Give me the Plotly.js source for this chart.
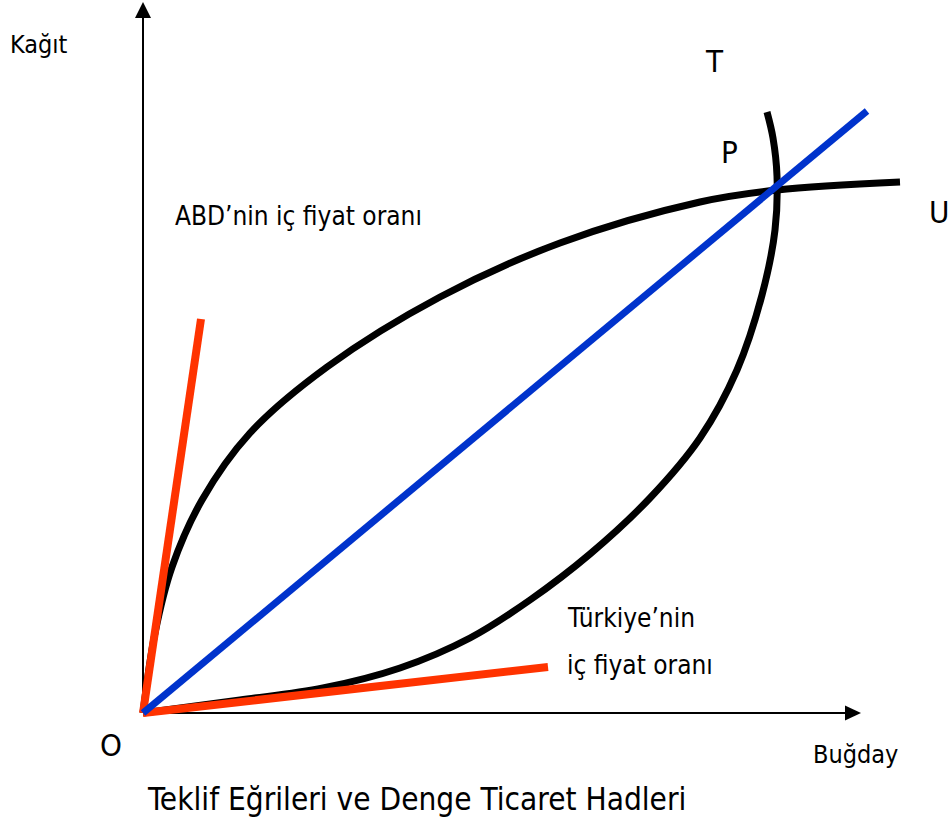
<!DOCTYPE html>
<html>
<head>
<meta charset="utf-8">
<script src="https://cdn.plot.ly/plotly-3.0.1.min.js"></script>
<style>html,body{margin:0;padding:0;background:#fff;}#chart{width:950px;height:829px;}</style>
</head>
<body>
<div id="chart"></div>
<script>
// Offer curve of ABD (O -> U): x = Buğday, y = Kağıt
const abdOfferX = [0, 12, 29, 59, 107, 184, 297, 417, 557, 634, 757];
const abdOfferY = [0, 80, 146, 213, 280, 346, 416, 470, 511, 523, 531];
// Offer curve of Türkiye (O -> T)
const trOfferX = [0, 97, 180, 257, 327, 387, 447, 507, 557, 594, 619, 632, 634, 630, 624];
const trOfferY = [0, 13, 25, 45, 75, 113, 159, 215, 275, 343, 418, 483, 537, 575, 601];
// Domestic price ratios
const abdRatioX = [0, 58];
const abdRatioY = [0, 394];
const trRatioX = [0, 405];
const trRatioY = [0, 46];
// Equilibrium terms of trade (ray through P)
const totX = [0, 724];
const totY = [0, 602];

const FONT = 'DejaVu Sans Condensed, DejaVu Sans, sans-serif';

const black = {color: '#000000', width: 7, shape: 'spline', smoothing: 1};
const traces = [
  {x: abdOfferX, y: abdOfferY, mode: 'lines', line: black, hoverinfo: 'skip'},
  {x: trOfferX, y: trOfferY, mode: 'lines', line: black, hoverinfo: 'skip'},
  {x: abdRatioX, y: abdRatioY, mode: 'lines', line: {color: '#FF3300', width: 8}, hoverinfo: 'skip'},
  {x: trRatioX, y: trRatioY, mode: 'lines', line: {color: '#FF3300', width: 8}, hoverinfo: 'skip'},
  {x: totX, y: totY, mode: 'lines', line: {color: '#0033CC', width: 7}, hoverinfo: 'skip'}
];

function ann(text, x, y, xanchor, size) {
  return {text: text, x: x, y: y, xref: 'x', yref: 'y', xanchor: xanchor, yanchor: 'middle',
          showarrow: false, font: {family: FONT, size: size, color: '#000'}};
}

const layout = {
  width: 950, height: 829,
  margin: {l: 0, r: 0, t: 0, b: 0},
  paper_bgcolor: '#fff', plot_bgcolor: '#fff',
  showlegend: false,
  xaxis: {range: [-143, 807], visible: false, fixedrange: true},
  yaxis: {range: [-116, 713], visible: false, fixedrange: true},
  shapes: [
    {type: 'line', xref: 'x', yref: 'y', x0: 0, y0: 0, x1: 0, y1: 697, line: {color: '#000', width: 2}, layer: 'below'},
    {type: 'line', xref: 'x', yref: 'y', x0: 0, y0: 0, x1: 704, y1: 0, line: {color: '#000', width: 2}, layer: 'below'},
    {type: 'path', xref: 'x', yref: 'y', path: 'M -8 695 L 8 695 L 0 711 Z', fillcolor: '#000', line: {width: 0}},
    {type: 'path', xref: 'x', yref: 'y', path: 'M 702 7.5 L 702 -7.5 L 718 0 Z', fillcolor: '#000', line: {width: 0}}
  ],
  annotations: [
    ann('Kağıt', -135, 669, 'left', 25),
    ann('T', 571, 652, 'center', 31),
    ann('P', 586, 561, 'center', 31),
    ann('U', 784, 501, 'left', 31),
    ann('ABD’nin iç fiyat oranı', 30, 497, 'left', 26),
    ann('Türkiye’nin', 422, 95, 'left', 26),
    ann('iç fiyat oranı', 422, 48, 'left', 26),
    ann('O', -32, -32, 'center', 31),
    ann('Buğday', 668, -41, 'left', 25),
    ann('Teklif Eğrileri ve Denge Ticaret Hadleri', 2, -86, 'left', 31.3)
  ]
};

Plotly.newPlot('chart', traces, layout, {displayModeBar: false, staticPlot: true});
</script>
</body>
</html>
